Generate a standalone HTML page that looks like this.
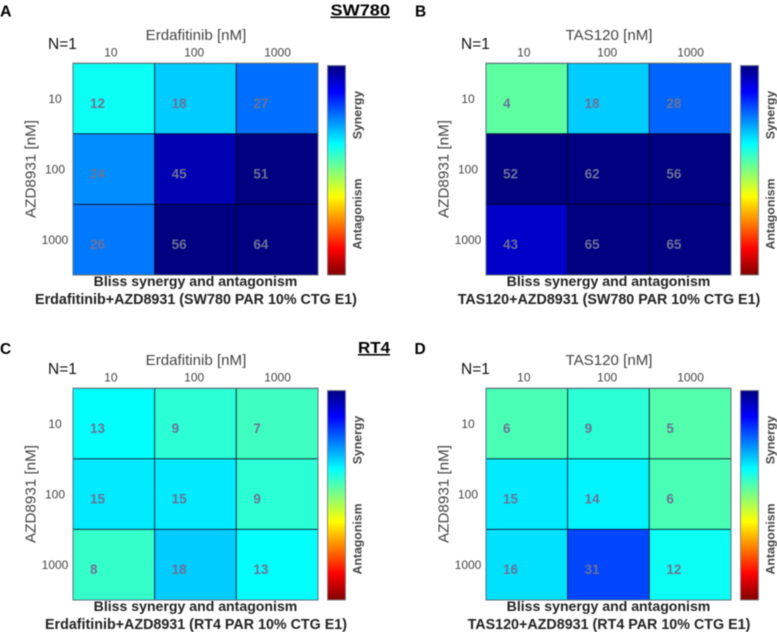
<!DOCTYPE html>
<html lang="en">
<head>
<meta charset="utf-8">
<title>Bliss synergy heatmaps</title>
<style>
html,body{margin:0;padding:0;background:#fff;width:777px;height:632px;overflow:hidden}
svg{display:block;filter:blur(0.45px)}
text{font-family:"Liberation Sans",sans-serif}
</style>
</head>
<body>
<svg id="figure" xmlns="http://www.w3.org/2000/svg" width="777" height="632" viewBox="0 0 777 632">
  <defs>
    <linearGradient id="jet-gradient" x1="0" y1="1" x2="0" y2="0"></linearGradient>
  </defs>
  <text x="0" y="16.5" font-size="16" font-weight="bold" fill="#000">A</text>
  <text x="415" y="16.5" font-size="15.5" font-weight="bold" fill="#000">B</text>
  <text x="0" y="354" font-size="15.5" font-weight="bold" fill="#000">C</text>
  <text x="414.5" y="354" font-size="15.5" font-weight="bold" fill="#000">D</text>
  <text x="330.5" y="15.5" font-size="15.5" font-weight="bold" fill="#000" text-decoration="underline" textLength="59.5" lengthAdjust="spacingAndGlyphs">SW780</text>
  <text x="358" y="353" font-size="15.5" font-weight="bold" fill="#000" text-decoration="underline" textLength="32" lengthAdjust="spacingAndGlyphs">RT4</text>
</svg>
<script>
// ---- chart data ----
const doseLabels = ['10', '100', '1000'];
const yAxisTitle = 'AZD8931 [nM]';
const titleLine1 = 'Bliss synergy and antagonism';
const panelNames = ['a', 'b', 'c', 'd'];
const drugTitles = ['Erdafitinib [nM]', 'TAS120 [nM]', 'Erdafitinib [nM]', 'TAS120 [nM]'];
const titleLines2 = [
  'Erdafitinib+AZD8931 (SW780 PAR 10% CTG E1)',
  'TAS120+AZD8931 (SW780 PAR 10% CTG E1)',
  'Erdafitinib+AZD8931 (RT4 PAR 10% CTG E1)',
  'TAS120+AZD8931 (RT4 PAR 10% CTG E1)'
];
const valuesA = [[12, 18, 27], [24, 45, 51], [26, 56, 64]];
const valuesB = [[4, 18, 28], [52, 62, 56], [43, 65, 65]];
const valuesC = [[13, 9, 7], [15, 15, 9], [8, 18, 13]];
const valuesD = [[6, 9, 5], [15, 14, 6], [16, 31, 12]];
const panelValues = [valuesA, valuesB, valuesC, valuesD];
const colorDomain = [-48.5, 50];
const colorbarLabels = ['Synergy', 'Antagonism'];

// ---- layout ----
const NS = 'http://www.w3.org/2000/svg';
const svg = document.getElementById('figure');
const plotX0 = 73, plotWidth = 245, plotY0 = 63.3, plotHeight = 211.7;
const panelDx = [0, 413, 0, 413];
const panelDy = [0, 0, 325, 325];

function xBand(i) { return plotX0 + plotWidth * i / doseLabels.length; }
function yBand(i) { return plotY0 + plotHeight * i / doseLabels.length; }

function jet(t) {
  const c = x => Math.round(255 * Math.max(0, Math.min(1, x)));
  const r = Math.min(4 * t - 1.5, -4 * t + 4.5);
  const g = Math.min(4 * t - 0.5, -4 * t + 3.5);
  const b = Math.min(4 * t + 0.5, -4 * t + 2.5);
  return 'rgb(' + c(r) + ',' + c(g) + ',' + c(b) + ')';
}
// Reversed jet: strong synergy is navy, antagonism is dark red
function colorScale(v) {
  const t = (v - colorDomain[0]) / (colorDomain[1] - colorDomain[0]);
  return jet(1 - Math.max(0, Math.min(1, t)));
}

function make(tag, attrs, parent, txt) {
  const el = document.createElementNS(NS, tag);
  for (const k in attrs) el.setAttribute(k, attrs[k]);
  if (txt !== undefined) el.textContent = txt;
  parent.appendChild(el);
  return el;
}

// Colorbar gradient, bottom (dark red) to top (navy)
const gradient = document.getElementById('jet-gradient');
for (let i = 0; i <= 32; i++) {
  const v = colorDomain[0] + (colorDomain[1] - colorDomain[0]) * i / 32;
  make('stop', { offset: (i / 32), 'stop-color': colorScale(v) }, gradient);
}

panelValues.forEach(function (values, p) {
  const name = panelNames[p];
  const g = make('g', { transform: 'translate(' + panelDx[p] + ',' + panelDy[p] + ')' }, svg);
  
  

  values.forEach(function (row, r) {
    row.forEach(function (v, c) {
      const cell = make('rect', {
        x: xBand(c), y: yBand(r),
        width: plotWidth / 3, height: plotHeight / 3,
        fill: colorScale(v), stroke: 'rgba(0,0,30,0.6)', 'stroke-width': 1.1
      }, g);
      
      
    });
  });
  values.forEach(function (row, r) {
    row.forEach(function (v, c) {
      const label = make('text', {
        x: xBand(c) + 17, y: yBand(r) + 44.5,
        'font-size': 13.5, 'font-weight': 'bold', fill: '#6c7296'
      }, g, String(v));
      
      
    });
  });

  const frame = make('rect', {
    x: plotX0, y: plotY0, width: plotWidth, height: plotHeight,
    fill: 'none', stroke: '#667a80', 'stroke-width': 1
  }, g);
  
  

  doseLabels.forEach(function (d, i) {
    const xt = make('text', {
      x: xBand(i) + plotWidth / 6 - 3 + i * 1.7, y: 56.5, 'text-anchor': 'middle',
      'font-size': 12, fill: '#444'
    }, g, d);
    
    
    const yt = make('text', {
      x: 55, y: yBand(i) + 39.5, 'text-anchor': 'middle',
      'font-size': 12, fill: '#444'
    }, g, d);
    
    
  });

  const xTitle = make('text', {
    x: 196, y: 40, 'text-anchor': 'middle', 'font-size': 15.1, fill: '#444'
  }, g, drugTitles[p]);
  
  

  const yTitle = make('text', {
    transform: 'translate(35.5,169) rotate(-90)', 'text-anchor': 'middle',
    'font-size': 15.2, fill: '#444'
  }, g, yAxisTitle);
  
  

  const nLabel = make('text', {
    x: 48, y: 49, 'font-size': 15.5, fill: '#111'
  }, g, 'N=1');
  
  

  const title1 = make('text', {
    x: 195.5, y: 286, 'text-anchor': 'middle', 'font-size': 14.1,
    'font-weight': 'bold', fill: '#222'
  }, g, titleLine1);
  
  

  const title2 = make('text', {
    x: 196, y: 304, 'text-anchor': 'middle', 'font-size': 14.3,
    'font-weight': 'bold', fill: '#222'
  }, g, titleLines2[p]);
  
  

  const bar = make('rect', {
    x: 327.5, y: 65.5, width: 18, height: 209.5,
    fill: 'url(#jet-gradient)', stroke: '#808890', 'stroke-width': 1
  }, g);
  
  

  const syn = make('text', {
    transform: 'translate(361.5,115) rotate(-90)', 'text-anchor': 'middle',
    'font-size': 12.3, 'font-weight': 'bold', fill: '#444'
  }, g, colorbarLabels[0]);
  
  

  const ant = make('text', {
    transform: 'translate(361.5,214) rotate(-90)', 'text-anchor': 'middle',
    'font-size': 12.3, 'font-weight': 'bold', fill: '#444'
  }, g, colorbarLabels[1]);
  
  
  g.setAttribute('data-panel', name);
});
</script>
</body>
</html>
